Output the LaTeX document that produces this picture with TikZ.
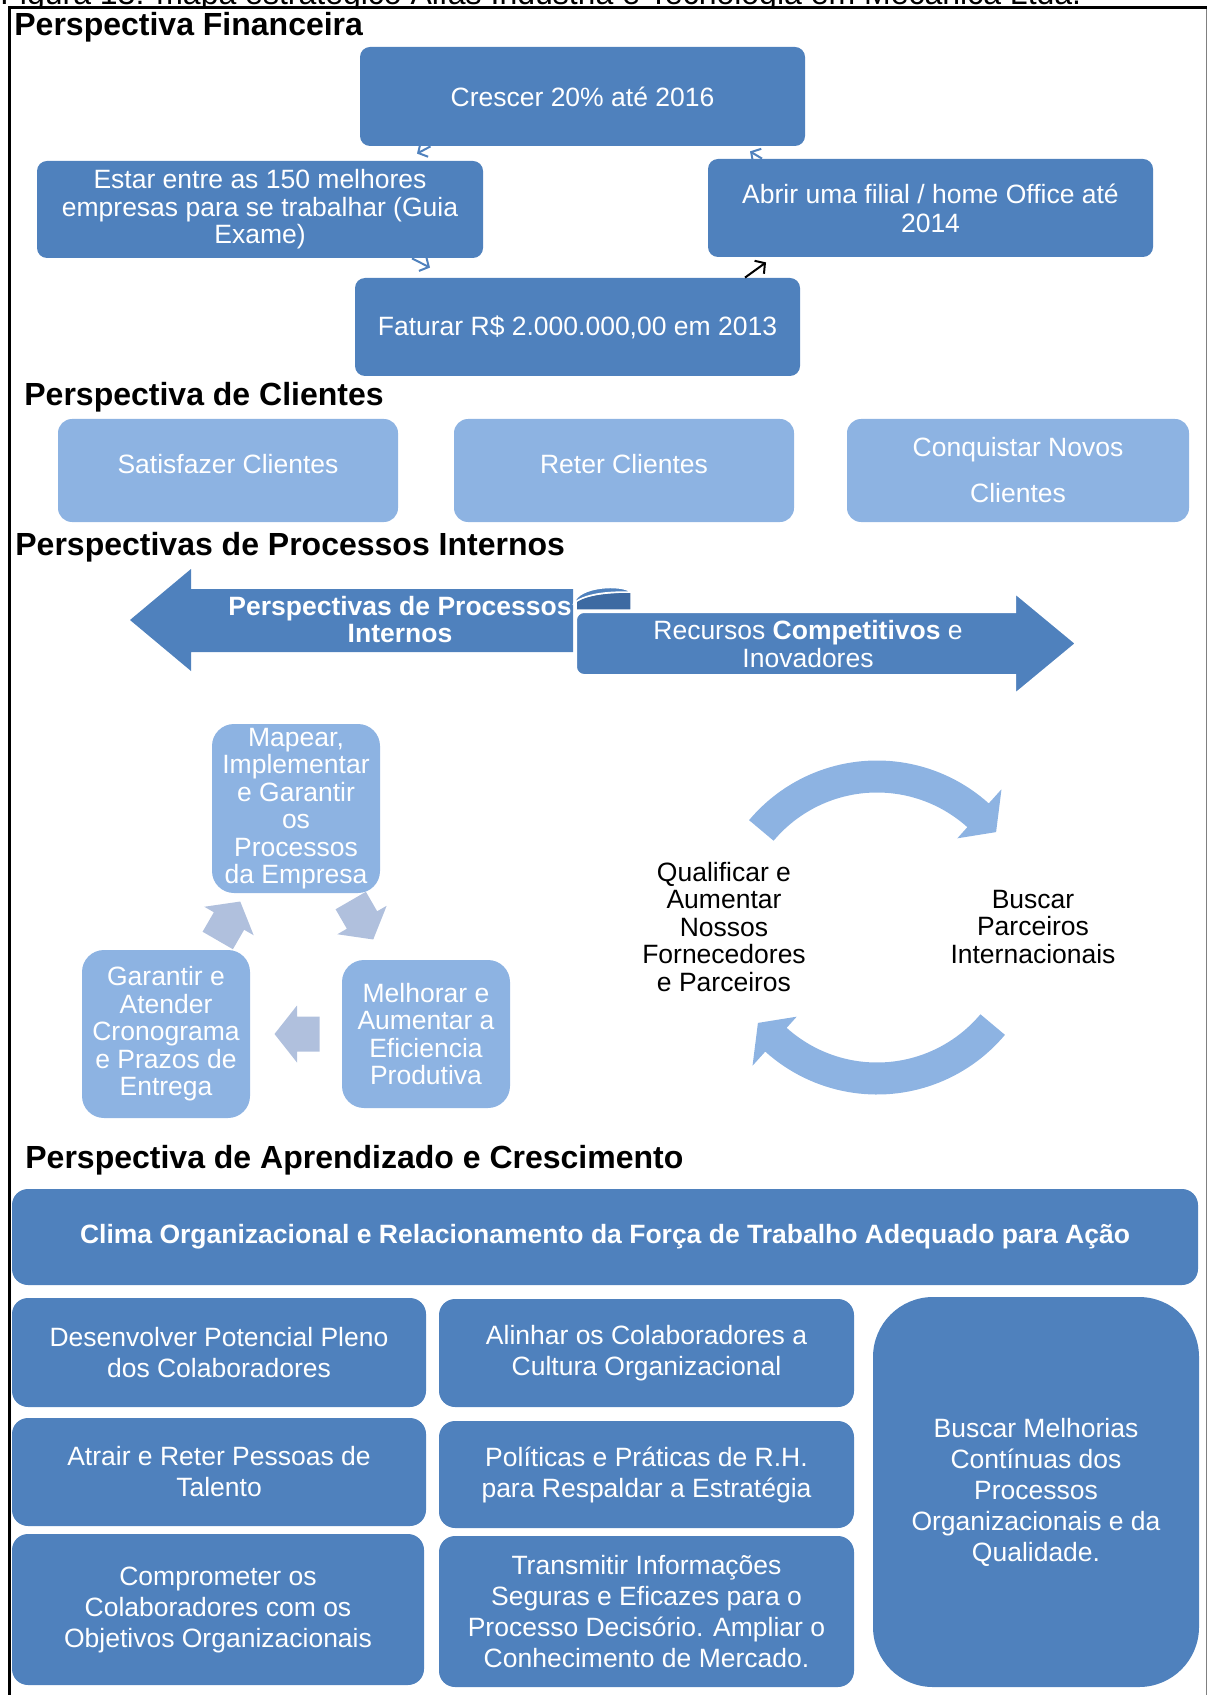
\documentclass[tikz,border=0pt]{standalone}
\usepackage{fontspec}
\setmainfont{Liberation Sans}
\usetikzlibrary{calc,arrows.meta}
\definecolor{accentblue}{HTML}{4F81BD}
\definecolor{lightblue}{HTML}{8DB3E2}
\definecolor{greyblue}{HTML}{B0C0DD}
\definecolor{curlblue}{HTML}{3D6AA2}
\newcommand\BodySize{\fontsize{13.25}{13.75}\selectfont}
\newcommand\LearnSize{\fontsize{13.25}{15.5}\selectfont}
\newcommand\BlockArrow{(-22.5,-17.5) -- (0,-17.5) -- (0,-28.5) -- (22.5,0) -- (0,28.5) -- (0,17.5) -- (-22.5,17.5) -- cycle}
\tikzset{
  sectitle/.style={
    anchor = base west,
    inner sep = 0pt,
    font = \fontsize{16}{19}\selectfont\bfseries
  },
}
\tikzset{
  darkbox/.style={
    shape = rectangle,
    rounded corners = 5pt,
    fill = accentblue,
    text = white,
    align = center,
    inner sep = 0pt,
    font = \BodySize
  },
}
\tikzset{
  lightbox/.style={
    shape = rectangle,
    rounded corners = 7pt,
    fill = lightblue,
    text = white,
    align = center,
    inner sep = 0pt,
    font = \fontsize{13.25}{23}\selectfont
  },
  cyclebox/.style={
    shape = rectangle,
    rounded corners = 11pt,
    fill = lightblue,
    text = white,
    align = center,
    inner sep = 0pt,
    font = \BodySize
  },
  learnbox/.style={
    shape = rectangle,
    rounded corners = 8pt,
    fill = accentblue,
    text = white,
    align = center,
    inner sep = 0pt,
    font = \LearnSize
  },
  plaintext/.style={
    align = center,
    inner sep = 0pt,
    font = \BodySize
  },
  finarrow/.style={
    accentblue,
    line width = 1pt,
    -{Straight Barb[length=3.5pt,width=8pt]}
  }
}

\begin{document}
\begin{tikzpicture}[x=0.5pt,y=-0.5pt]
\useasboundingbox (0,0) rectangle (1208,1695);

% caption, cut at the top of the page
\begin{scope}
  \clip (0,0) rectangle (1208,6);
  \node[anchor=base west, inner sep=0pt, font=\fontsize{16}{19}\selectfont] (caption) at (0,4.5)
    {Figura 13: mapa estratégico Alfas Indústria e Tecnologia em Mecânica Ltda.};
\end{scope}

% frame
\draw[line width=1.75pt] (8,7.5) -- (1207,7.5);
\draw[line width=1.5pt] (9.5,6) -- (9.5,1695);
\draw[gray, line width=0.75pt] (1206.5,9) -- (1206.5,1695);

% Perspectiva Financeira
\node[sectitle] (tfin) at (14,36) {Perspectiva Financeira};

\node[darkbox, minimum width=222.5pt, minimum height=49.5pt] (crescer) at (582.5,96.5) {Crescer 20\% até 2016};
\node[darkbox, minimum width=223pt, minimum height=48.5pt] (estar) at (260,209.5)
  {Estar entre as 150 melhores\\empresas para se trabalhar (Guia\\Exame)};
\node[darkbox, minimum width=222.5pt, minimum height=49pt] (abrir) at (930.5,208)
  {Abrir uma filial / home Office até\\[0.7pt]2014};
\node[darkbox, minimum width=222.5pt, minimum height=49pt] (faturar) at (577.5,327) {Faturar R\$ 2.000.000,00 em 2013};

\draw[finarrow] ([shift={(-152,0)}]crescer.south) -- ([shift={(157,-7)}]estar.north);
\draw[finarrow] ([shift={(152,0)}]estar.south) -- ([shift={(-147.5,-10)}]faturar.north);
\draw[finarrow, black] ([shift={(167.5,0)}]faturar.north) -- ([shift={(-164.5,5)}]abrir.south);
\draw[finarrow] ([shift={(-168.5,0)}]abrir.north) -- ([shift={(167.5,5)}]crescer.south);

% Perspectiva de Clientes
\node[sectitle] (tcli) at (24,406) {Perspectiva de Clientes};

\node[lightbox, minimum width=170pt, minimum height=51.5pt, text depth=7pt] (satisfazer) at (228,470.5) {Satisfazer Clientes};
\node[lightbox, minimum width=170pt, minimum height=51.5pt, text depth=7pt] (reter) at (624,470.5) {Reter Clientes};
\node[lightbox, minimum width=171pt, minimum height=51.5pt] (conquistar) at (1018,470.5) {Conquistar Novos\\Clientes};

% Perspectivas de Processos Internos
\node[sectitle] (tproc) at (15,555) {Perspectivas de Processos Internos};

\fill[accentblue] (130,620) -- (191,569) -- (191,589) -- (573,589) -- (573,652) -- (191,652) -- (191,671) -- cycle;
\filldraw[accentblue, draw=white, line width=1pt] (1015,612) -- (1015,593) -- (1076,643.5) -- (1015,694) -- (1015,675)
  {[rounded corners=4pt] -- (576,675) -- (576,612)} -- cycle;
\filldraw[curlblue, draw=white, line width=0.75pt] (576,610) -- (576,601) .. controls (590,593) and (615,592) .. (631,592) -- (631,610) -- cycle;
\filldraw[accentblue, draw=white, line width=0.75pt] (574,603) .. controls (578,586) and (622,584) .. (631,592) .. controls (615,592) and (588,592) .. (574,603) -- cycle;
\node[plaintext, text=white, font=\fontsize{13.25}{13.5}\selectfont\bfseries] (procleft) at (400,620)
  {Perspectivas de Processos\\Internos};
\node[plaintext, text=white, font=\fontsize{13.25}{13.75}\selectfont] (procright) at (808,644)
  {Recursos \textbf{Competitivos} e\\Inovadores};

% ciclo de processos
\node[cyclebox, minimum width=84pt, minimum height=84.5pt] (mapear) at (296,808.5)
  {Mapear,\\Implementar\\e Garantir\\os\\Processos\\da Empresa};
\node[cyclebox, minimum width=84pt, minimum height=84pt] (garantir) at (166,1034)
  {Garantir e\\Atender\\Cronograma\\e Prazos de\\Entrega};
\node[cyclebox, minimum width=84pt, minimum height=74pt] (melhorar) at (426,1034)
  {Melhorar e\\Aumentar a\\Eficiencia\\Produtiva};

\fill[greyblue, shift={(229,921)}, rotate=60] \BlockArrow;
\fill[greyblue, shift={(362,920)}, rotate=-60] \BlockArrow;
\fill[greyblue, shift={(297,1034)}, rotate=180] \BlockArrow;

% ciclo de parceiros
\coordinate (cyc) at (877,927.5);
\fill[lightblue] ($(cyc)+(140:83.5pt)$) arc[start angle=140, end angle=48, radius=83.5pt]
  -- ($(cyc)+(48:93pt)$) -- ($(cyc)+(38.7:76.3pt)$) -- ($(cyc)+(48:60pt)$)
  -- ($(cyc)+(48:67.5pt)$) arc[start angle=48, end angle=140, radius=67.5pt] -- cycle;
\fill[lightblue] ($(cyc)+(320:83.5pt)$) arc[start angle=320, end angle=228, radius=83.5pt]
  -- ($(cyc)+(228:93pt)$) -- ($(cyc)+(218.7:76.3pt)$) -- ($(cyc)+(228:60pt)$)
  -- ($(cyc)+(228:67.5pt)$) arc[start angle=228, end angle=320, radius=67.5pt] -- cycle;

\node[plaintext] (qualificar) at (724,927)
  {Qualificar e\\Aumentar\\Nossos\\Fornecedores\\e Parceiros};
\node[plaintext] (parceiros) at (1033,927)
  {Buscar\\Parceiros\\Internacionais};

% Perspectiva de Aprendizado e Crescimento
\node[sectitle] (tapr) at (25,1168) {Perspectiva de Aprendizado e Crescimento};

\node[learnbox, minimum width=593pt, minimum height=48pt, font=\fontsize{13.25}{15.5}\selectfont\bfseries] (clima) at (605,1237)
  {Clima Organizacional e Relacionamento da Força de Trabalho Adequado para Ação};
\node[learnbox, minimum width=207pt, minimum height=54.5pt] (desenvolver) at (219,1352.5)
  {Desenvolver Potencial Pleno\\dos Colaboradores};
\node[learnbox, minimum width=207.5pt, minimum height=54pt] (alinhar) at (646.5,1353)
  {Alinhar os Colaboradores a\\Cultura Organizacional};
\node[learnbox, minimum width=207pt, minimum height=54pt] (atrair) at (219,1472)
  {Atrair e Reter Pessoas de\\Talento};
\node[learnbox, minimum width=207.5pt, minimum height=53.5pt] (politicas) at (646.5,1474.5)
  {Políticas e Práticas de R.H.\\para Respaldar a Estratégia};
\node[learnbox, minimum width=206pt, minimum height=75.5pt] (comprometer) at (218,1609.5)
  {Comprometer os\\Colaboradores com os\\Objetivos Organizacionais};
\node[learnbox, minimum width=207.5pt, minimum height=75.5pt] (transmitir) at (646.5,1611.5)
  {Transmitir Informações\\Seguras e Eficazes para o\\Processo Decisório. Ampliar o\\Conhecimento de Mercado.};
\node[learnbox, rounded corners=30pt, minimum width=163pt, minimum height=195pt] (melhorias) at (1036,1492)
  {Buscar Melhorias\\Contínuas dos\\Processos\\Organizacionais e da\\Qualidade.};

\end{tikzpicture}
\end{document}
